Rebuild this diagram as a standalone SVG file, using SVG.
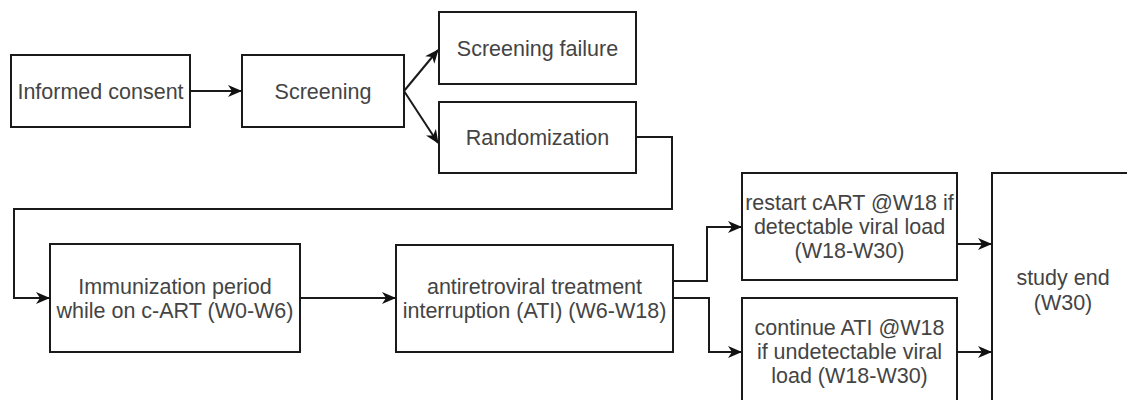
<svg xmlns="http://www.w3.org/2000/svg" width="1127" height="400" viewBox="0 0 1127 400">
<style>
.box{fill:#fff;stroke:#1a1a1a;stroke-width:2}
.lbl{font-family:"Liberation Sans",Arial,sans-serif;font-size:21.5px;fill:#444;text-anchor:middle}
.edge{fill:none;stroke:#1a1a1a;stroke-width:2}
</style>
<defs>
<marker id="arr" markerWidth="14" markerHeight="12" refX="13" refY="6" orient="auto" markerUnits="userSpaceOnUse">
<path d="M0,0 L14,6 L0,12 L4,6 z" fill="#111"/>
</marker>
</defs>
<rect width="1127" height="400" fill="#fff"/>
<g id="connectors">
<path class="edge" d="M190,91 L241,91" marker-end="url(#arr)"/>
<path class="edge" d="M404,91 L438,50" marker-end="url(#arr)"/>
<path class="edge" d="M404,91 L438,143" marker-end="url(#arr)"/>
<path class="edge" d="M636,137 L672,137 L672,209 L14,209 L14,298 L49,298" marker-end="url(#arr)"/>
<path class="edge" d="M300,298 L395,298" marker-end="url(#arr)"/>
<path class="edge" d="M673,281 L707,281 L707,227 L741,227" marker-end="url(#arr)"/>
<path class="edge" d="M673,298 L709,298 L709,352 L741,352" marker-end="url(#arr)"/>
<path class="edge" d="M957,244 L991,244" marker-end="url(#arr)"/>
<path class="edge" d="M957,352 L991,352" marker-end="url(#arr)"/>
</g>
<g id="informed-consent"><rect class="box" x="11" y="55" width="179" height="72"/><text class="lbl" x="100.5" y="99">Informed consent</text></g>
<g id="screening"><rect class="box" x="242" y="55" width="162" height="72"/><text class="lbl" x="323" y="99">Screening</text></g>
<g id="screening-failure"><rect class="box" x="439" y="12" width="197" height="72"/><text class="lbl" x="537.5" y="56">Screening failure</text></g>
<g id="randomization"><rect class="box" x="439" y="102" width="197" height="71"/><text class="lbl" x="537.5" y="145">Randomization</text></g>
<g id="immunization"><rect class="box" x="50" y="244" width="250" height="108"/><text class="lbl" x="175" y="294">Immunization period</text><text class="lbl" x="175" y="318">while on c-ART (W0-W6)</text></g>
<g id="ati"><rect class="box" x="396" y="245" width="277" height="107"/><text class="lbl" x="534.5" y="294">antiretroviral treatment</text><text class="lbl" x="534.5" y="318">interruption (ATI) (W6-W18)</text></g>
<g id="restart"><rect class="box" x="742" y="173" width="215" height="107"/><text class="lbl" x="849.5" y="210">restart cART @W18 if</text><text class="lbl" x="849.5" y="234">detectable viral load</text><text class="lbl" x="849.5" y="258">(W18-W30)</text></g>
<g id="continue"><rect class="box" x="742" y="298" width="215" height="107"/><text class="lbl" x="849.5" y="335">continue ATI @W18</text><text class="lbl" x="849.5" y="359">if undetectable viral</text><text class="lbl" x="849.5" y="383">load (W18-W30)</text></g>
<g id="study-end"><rect class="box" x="992" y="173" width="142" height="248"/><text class="lbl" x="1063" y="285">study end</text><text class="lbl" x="1063" y="310">(W30)</text></g>
</svg>
